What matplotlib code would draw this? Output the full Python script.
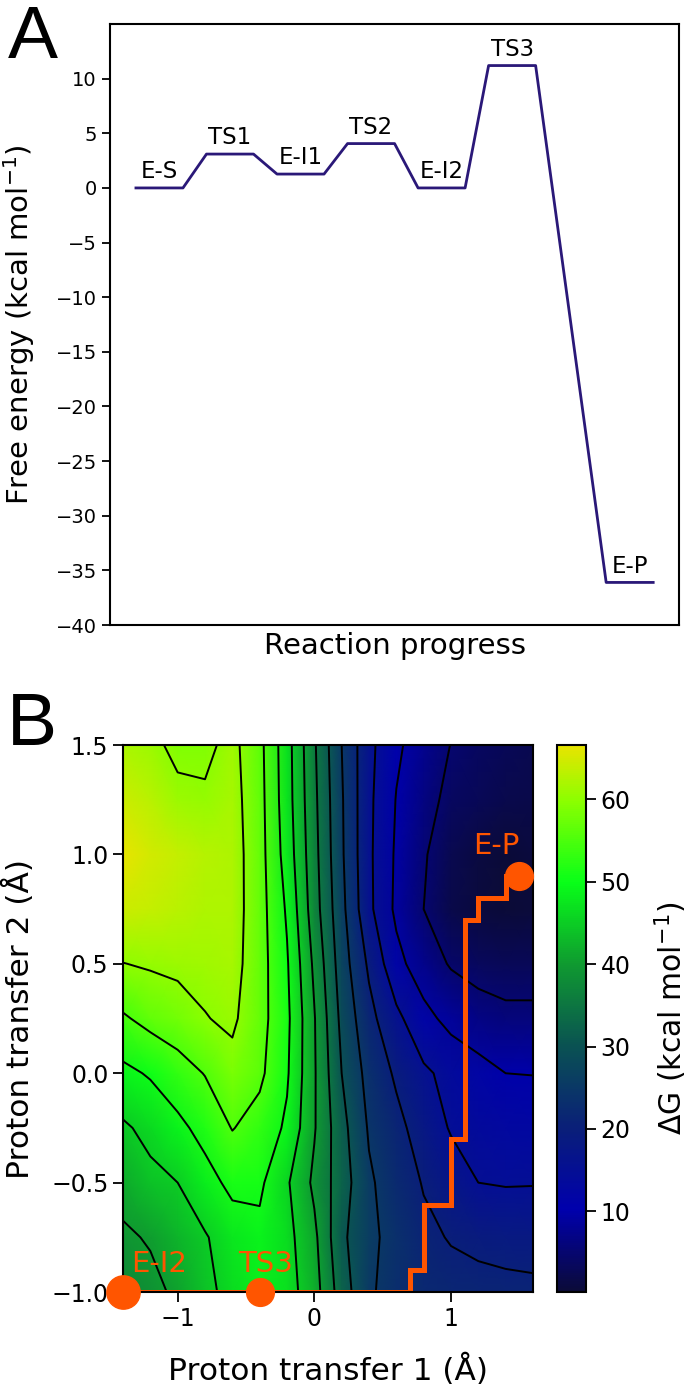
import matplotlib
matplotlib.use("Agg")
import matplotlib.pyplot as plt
import numpy as np
from matplotlib.colors import LinearSegmentedColormap

# ---- panel A: free energy profile ----
states = ["E-S", "TS1", "E-I1", "TS2", "E-I2", "TS3", "E-P"]
energies = [0.0, 3.1, 1.27, 4.06, 0.0, 11.2, -36.1]
level_start = [0.0, 1.5, 3.0, 4.5, 6.0, 7.5, 10.0]
level_width = 1.0

# ---- panel B: free energy surface (kcal/mol) ----
pt1 = [-1.4, -1.2, -1.0, -0.8, -0.6, -0.4, -0.2, 0.0, 0.2, 0.4, 0.6, 0.8, 1.0, 1.2, 1.4, 1.6]
pt2 = [-1.0, -0.75, -0.5, -0.25, 0.0, 0.25, 0.5, 0.75, 1.0, 1.25, 1.5]
dg_grid = [
    [37.5, 38.8, 40.8, 43.8, 46.5, 48.3, 47.0, 42.1, 32.5, 25.6, 23.2, 22.2, 21.6, 21.3, 21.1, 21.0],
    [39.3, 40.4, 42.5, 44.6, 47.5, 48.8, 46.5, 41.1, 31.0, 26.1, 23.3, 21.0, 19.7, 19.0, 18.5, 18.1],
    [41.6, 43.8, 45.0, 48.2, 51.2, 50.9, 45.6, 39.0, 32.4, 25.7, 22.5, 19.7, 17.4, 15.0, 14.7, 14.8],
    [44.3, 46.3, 48.8, 51.6, 55.2, 53.1, 49.2, 40.4, 31.6, 24.5, 21.3, 17.9, 14.6, 13.5, 12.8, 12.4],
    [48.8, 50.5, 52.9, 55.2, 58.5, 56.0, 50.6, 40.5, 30.0, 23.3, 19.3, 15.8, 13.6, 11.8, 10.0, 9.9],
    [54.4, 56.5, 57.8, 59.8, 60.8, 56.8, 51.1, 40.3, 28.7, 21.5, 16.2, 11.5, 8.5, 6.8, 6.1, 6.1],
    [59.9, 60.5, 61.0, 61.3, 61.8, 57.0, 50.5, 39.0, 27.4, 19.2, 11.5, 7.3, 4.6, 3.5, 2.8, 2.8],
    [64.5, 64.0, 63.0, 62.4, 62.2, 57.0, 49.4, 37.2, 26.4, 16.1, 9.0, 5.0, 2.0, 0.8, 0.3, 0.5],
    [66.6, 65.0, 64.0, 62.8, 62.2, 56.9, 47.9, 36.6, 25.7, 15.9, 9.3, 5.4, 2.5, 1.2, 0.2, 0.8],
    [64.5, 63.0, 61.0, 60.6, 61.8, 56.7, 47.2, 36.1, 25.5, 16.0, 9.8, 6.6, 3.8, 2.8, 2.2, 2.0],
    [62.0, 61.0, 59.0, 59.0, 61.3, 56.4, 47.0, 35.6, 25.0, 16.3, 10.8, 7.6, 4.9, 3.8, 3.0, 2.5],
]
path_x = [-1.4, 0.7, 0.7, 0.8, 0.8, 1.0, 1.0, 1.1, 1.1, 1.2, 1.2, 1.4, 1.4, 1.5]
path_y = [-1.0, -1.0, -0.9, -0.9, -0.6, -0.6, -0.3, -0.3, 0.7, 0.7, 0.8, 0.8, 0.9, 0.9]
point_names = ["E-I2", "TS3", "E-P"]
point_x = [-1.4, -0.4, 1.5]
point_y = [-1.0, -1.0, 0.9]

orange = "#ff5500"
cmap = LinearSegmentedColormap.from_list(
    "pes",
    [(0.0, "#0b0b38"), (0.15, "#0000ad"), (0.30, "#0a1f78"), (0.45, "#0a5252"),
     (0.60, "#0f9a30"), (0.75, "#08ff18"), (0.90, "#8cff00"), (1.0, "#e8e400")],
)

fig = plt.figure(figsize=(6.88, 13.89), dpi=100)
ax1 = fig.add_axes([0.160, 0.550, 0.827, 0.4327])
ax2 = fig.add_axes([0.1788, 0.0698, 0.5959, 0.3938])
cax = fig.add_axes([0.8096, 0.0698, 0.042, 0.3938])

# panel A
xs, ys = [], []
for s, e in zip(level_start, energies):
    xs += [s, s + level_width]
    ys += [e, e]
ax1.plot(xs, ys, color="#2a1878", lw=2.0)
for name, s, e in zip(states, level_start, energies):
    ax1.text(s + level_width / 2, e + 0.9, name, ha="center", va="baseline", fontsize=16.5)
ax1.set_ylim(-40, 15)
ax1.set_yticks(np.arange(-40, 11, 5))
ax1.set_xticks([])
ax1.tick_params(axis="y", labelsize=14, length=6, width=1.3)
ax1.set_ylabel("Free energy (kcal mol$^{-1}$)", fontsize=21)
ax1.yaxis.set_label_coords(-0.128, 0.5)
ax1.set_xlabel("Reaction progress", fontsize=21)
ax1.xaxis.set_label_coords(0.5, -0.012)
for sp in ax1.spines.values():
    sp.set_linewidth(1.5)

# panel B
Z = np.array(dg_grid)
mesh = ax2.pcolormesh(pt1, pt2, Z, shading="gouraud", cmap=cmap, vmin=Z.min(), vmax=Z.max())
ax2.contour(pt1, pt2, Z, levels=np.arange(5, 61, 5), colors="black", linewidths=1.4)
ax2.plot(path_x, path_y, color=orange, lw=3.6, solid_joinstyle="miter")
sizes = [24, 20, 20]
for name, x, y, ms in zip(point_names, point_x, point_y, sizes):
    ax2.plot(x, y, "o", color=orange, ms=ms, clip_on=False, zorder=5)
ax2.text(point_x[0] + 0.06, point_y[0] + 0.09, "E-I2", color=orange, fontsize=21, va="baseline")
ax2.text(point_x[1] - 0.155, point_y[1] + 0.09, "TS3", color=orange, fontsize=21, va="baseline")
ax2.text(point_x[2] - 0.335, point_y[2] + 0.1, "E-P", color=orange, fontsize=21, va="baseline")
ax2.set_xlim(-1.4, 1.6)
ax2.set_ylim(-1.0, 1.5)
ax2.set_xticks([-1, 0, 1])
ax2.set_yticks([-1.0, -0.5, 0.0, 0.5, 1.0, 1.5])
ax2.tick_params(labelsize=17, length=7, width=1.3)
ax2.set_xlabel("Proton transfer 1 (Å)", fontsize=22.5)
ax2.xaxis.set_label_coords(0.5, -0.112)
ax2.set_ylabel("Proton transfer 2 (Å)", fontsize=22.5)
ax2.yaxis.set_label_coords(-0.215, 0.5)
for sp in ax2.spines.values():
    sp.set_linewidth(1.5)

cbar = fig.colorbar(mesh, cax=cax, ticks=[10, 20, 30, 40, 50, 60])
cbar.outline.set_linewidth(1.5)
cax.tick_params(labelsize=17, length=7, width=1.3)
cbar.set_label("ΔG (kcal mol$^{-1}$)", fontsize=21.5)
cax.yaxis.set_label_coords(3.3, 0.5)

fig.text(0.012, 0.9582, "A", fontsize=54, family="Liberation Sans", va="baseline")
fig.text(0.010, 0.4636, "B", fontsize=54, family="Liberation Sans", va="baseline")

fig.savefig("out.png", dpi=100)
